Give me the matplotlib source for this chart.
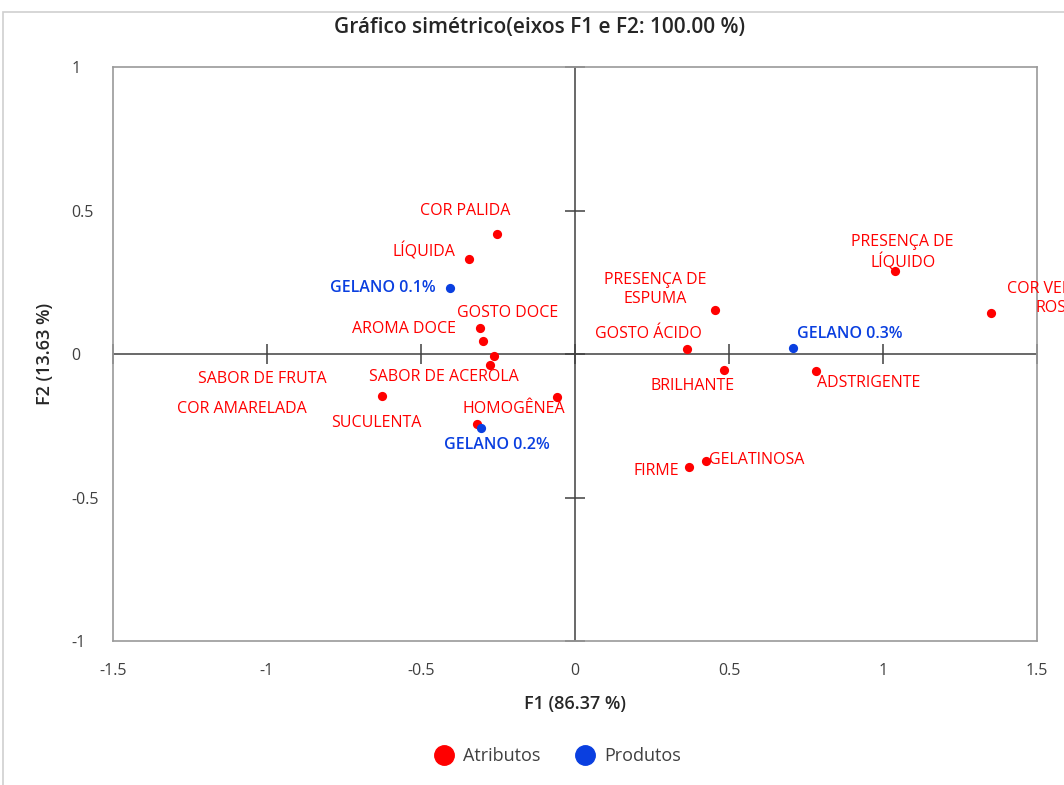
import matplotlib
matplotlib.use("Agg")
import matplotlib.pyplot as plt
from matplotlib.patches import Rectangle
from matplotlib.lines import Line2D

# ---------------- data ----------------
attr_names = ["COR PALIDA", "LÍQUIDA", "AROMA DOCE", "GOSTO DOCE", "SABOR DE ACEROLA",
              "SABOR DE FRUTA", "COR AMARELADA", "HOMOGÊNEA", "SUCULENTA",
              "PRESENÇA DE\nESPUMA", "GOSTO ÁCIDO", "BRILHANTE", "ADSTRIGENTE",
              "PRESENÇA DE\nLÍQUIDO", "COR VERMELHO\nROSADO", "FIRME", "GELATINOSA"]
attr_f1 = [-0.253, -0.343, -0.309, -0.299, -0.263, -0.277, -0.627, -0.060, -0.317,
           0.456, 0.364, 0.483, 0.784, 1.038, 1.352, 0.369, 0.425]
attr_f2 = [0.419, 0.332, 0.092, 0.045, -0.006, -0.037, -0.145, -0.149, -0.244,
           0.153, 0.017, -0.057, -0.059, 0.290, 0.144, -0.394, -0.374]

prod_names = ["GELANO 0.1%", "GELANO 0.2%", "GELANO 0.3%"]
prod_f1 = [-0.405, -0.304, 0.709]
prod_f2 = [0.229, -0.258, 0.022]

x_ticks = [-1.5, -1, -0.5, 0, 0.5, 1, 1.5]
y_ticks = [-1, -0.5, 0, 0.5, 1]
x_tick_labels = ["-1.5", "-1", "-0.5", "0", "0.5", "1", "1.5"]
y_tick_labels = ["-1", "-0.5", "0", "0.5", "1"]

title = "Gráfico simétrico(eixos F1 e F2: 100.00 %)"
xlabel = "F1 (86.37 %)"
ylabel = "F2 (13.63 %)"
legend_labels = ["Atributos", "Produtos"]

# label offsets in pixels (layout only)
attr_offsets = [(-32, 23), (-45, 7), (-76, -1), (25, 28), (-50, -21),
                (-227, -14), (-140, -13), (-43, -12), (-101, 1),
                (-60, 21), (-39, 15), (-31, -16), (52, -12),
                (8, 18), (16, 14), (-32, -4), (51, 1)]
prod_offsets = [(-67, 0), (16, -17), (56, 14)]

# ---------------- style ----------------
RED = "#FF0000"
BLUE = "#0A3FE0"
TXT = "#404040"
plt.rcParams["font.family"] = ["Open Sans", "DejaVu Sans"]

W, H = 1064, 785
fig = plt.figure(figsize=(W / 100, H / 100), dpi=100)
fig.patch.set_facecolor("white")

# outer chart border
fig.add_artist(Rectangle((3 / W, -0.05), 1.2, 1 - 12 / H + 0.05, transform=fig.transFigure,
                         fill=False, edgecolor="#CFCFCF", lw=1.2, clip_on=False))

ax = fig.add_axes([113 / W, 1 - 641 / H, (1037 - 113) / W, (641 - 67) / H])
ax.set_xlim(x_ticks[0], x_ticks[-1])
ax.set_ylim(y_ticks[0], y_ticks[-1])
for s in ax.spines.values():
    s.set_color("#9A9A9A")
    s.set_linewidth(1.2)

ax.set_xticks(x_ticks)
ax.set_xticklabels(x_tick_labels)
ax.set_yticks(y_ticks)
ax.set_yticklabels(y_tick_labels, ha="left")
ax.tick_params(axis="both", length=0, colors=TXT, labelsize=11.5)
ax.tick_params(axis="x", pad=16)
ax.tick_params(axis="y", pad=30)

# central axes with cross ticks
ax.axhline(0, color="#404040", lw=1.1, zorder=1)
ax.axvline(0, color="#404040", lw=1.1, zorder=1)
ax.plot(x_ticks, [0] * len(x_ticks), ls="none", marker="|", ms=14, mew=1.1,
        color="#404040", zorder=1, clip_on=False)
ax.plot([0] * len(y_ticks), y_ticks, ls="none", marker="_", ms=14, mew=1.1,
        color="#404040", zorder=1, clip_on=False)

# points
ax.scatter(attr_f1, attr_f2, s=44, color=RED, zorder=3, linewidths=0)
ax.scatter(prod_f1, prod_f2, s=44, color=BLUE, zorder=3, linewidths=0)

for name, x, y, off in zip(attr_names, attr_f1, attr_f2, attr_offsets):
    ha = "left" if name.startswith("COR VERMELHO") else "center"
    ax.annotate(name, (x, y), xytext=off, textcoords="offset pixels", ha=ha, va="center",
                multialignment="center", color=RED, fontsize=11.5, annotation_clip=False,
                linespacing=1.25)
for name, x, y, off in zip(prod_names, prod_f1, prod_f2, prod_offsets):
    ax.annotate(name, (x, y), xytext=off, textcoords="offset pixels", ha="center", va="center",
                color=BLUE, fontsize=11.5, fontweight="semibold", annotation_clip=False)

fig.text(540 / W, 1 - 28 / H, title, ha="center", va="center", fontsize=15,
         fontweight="semibold", color="#262626")
fig.text(575 / W, 1 - 704 / H, xlabel, ha="center", va="center", fontsize=13,
         fontweight="semibold", color="#262626")
fig.text(45 / W, 1 - 354 / H, ylabel, ha="center", va="center", fontsize=13,
         fontweight="semibold", color="#262626", rotation=90)

handles = [Line2D([], [], ls="none", marker="o", ms=14, color=RED),
           Line2D([], [], ls="none", marker="o", ms=14, color=BLUE)]
fig.legend(handles, legend_labels, loc="center", bbox_to_anchor=(557 / W, 1 - 756 / H),
           ncol=2, frameon=False, fontsize=13, handletextpad=0.45, columnspacing=1.9,
           labelcolor=TXT, handlelength=1.2)

fig.savefig("out.png", dpi=100)
